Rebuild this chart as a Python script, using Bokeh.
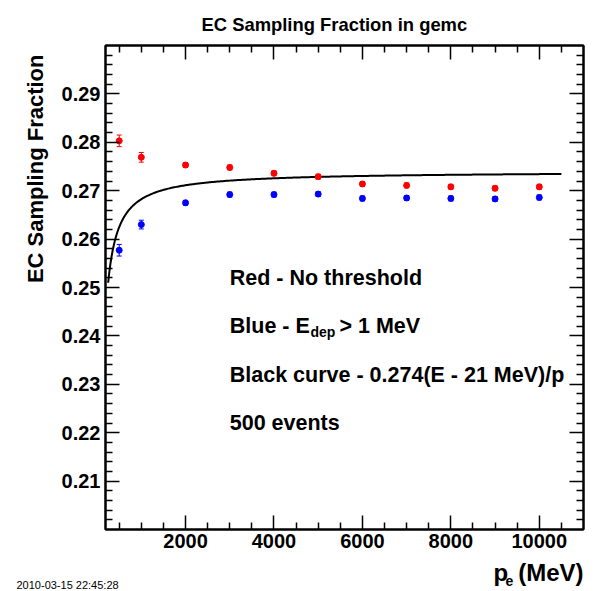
import numpy as np
from bokeh.plotting import figure
from bokeh.layouts import column
from bokeh.models import (ColumnDataSource, Whisker, TeeHead, Label, LinearAxis,
                          FixedTicker, CustomJSTickFormatter, Range1d, Title)
from bokeh.embed import file_html
from bokeh.resources import INLINE

# ---------------- data ----------------
momentum = [500, 1000, 2000, 3000, 4000, 5000, 6000, 7000, 8000, 9000, 10000]
red_frac = [0.2803, 0.2769, 0.2753, 0.2748, 0.2736, 0.2729, 0.2714, 0.2711, 0.2708, 0.2705, 0.2708]
red_err = [0.0012, 0.0010, 0.0005, 0.0005, 0.0005, 0.0005, 0.0005, 0.0005, 0.0005, 0.0005, 0.0005]
blue_frac = [0.2577, 0.2630, 0.2675, 0.2692, 0.2692, 0.2693, 0.2684, 0.2685, 0.2684, 0.2683, 0.2686]
blue_err = [0.0012, 0.0009, 0.0005, 0.0005, 0.0005, 0.0005, 0.0005, 0.0005, 0.0005, 0.0005, 0.0005]

# black curve: 0.274 (E - 21 MeV) / p  (E ~ p for electrons)
curve_coef = 0.274
curve_offset = 21.0
curve_p_min = 250
curve_p_max = 10500

x_ticks = [2000, 4000, 6000, 8000, 10000]
x_minor_ticks = [500, 1000, 1500, 2500, 3000, 3500, 4500, 5000, 5500, 6500, 7000, 7500,
                 8500, 9000, 9500, 10500]
y_ticks = [0.21, 0.22, 0.23, 0.24, 0.25, 0.26, 0.27, 0.28, 0.29]
y_minor_ticks = [round(0.200 + 0.002 * i, 3) for i in range(51) if i % 5 != 0]

title_text = "EC Sampling Fraction in gemc"
y_title = "EC Sampling Fraction"
notes = ["Red - No threshold", "Black curve - 0.274(E - 21 MeV)/p", "500 events"]
timestamp = "2010-03-15 22:45:28"

# ---------------- geometry ----------------
X0, X1 = 190, 11000
Y0, Y1 = 0.20, 0.30
W, H = 595, 591
FL, FR, FT, FB = 105, 583, 45, 529
MAIN_H = 558            # main figure height; a footer strip holds the x title
LIFT = 9                # text baseline correction, pixels

def sx(px):
    return X0 + (px - FL) / (FR - FL) * (X1 - X0)

def sy(py):
    return Y1 - (py - FT) / (FB - FT) * (Y1 - Y0)

FONT = "Liberation Sans"

p = figure(width=W, height=MAIN_H, output_backend="svg", toolbar_location=None,
           x_range=Range1d(X0, X1), y_range=Range1d(Y0, Y1),
           min_border_left=FL, min_border_right=W - FR,
           min_border_top=FT, min_border_bottom=MAIN_H - FB,
           x_axis_type=None, y_axis_type=None)
p.grid.visible = False
p.outline_line_color = "black"
p.outline_line_width = 2
p.background_fill_color = "white"
p.border_fill_color = "white"

p.title = Title(text=title_text, align="left", offset=96, standoff=21,
                text_font=FONT, text_font_style="bold", text_font_size="18.4px",
                text_color="black")

xt = FixedTicker(ticks=x_ticks, minor_ticks=x_minor_ticks)
yt = FixedTicker(ticks=y_ticks, minor_ticks=y_minor_ticks)
blank = CustomJSTickFormatter(code="return ''")

def style_axis(ax, labels=True, standoff=5):
    ax.axis_line_color = "black"
    ax.axis_line_width = 2
    ax.major_tick_in = 14
    ax.major_tick_out = 0
    ax.minor_tick_in = 7
    ax.minor_tick_out = 0
    ax.major_tick_line_width = 1.5
    ax.minor_tick_line_width = 1.5
    ax.major_tick_line_color = "black"
    ax.minor_tick_line_color = "black"
    ax.major_label_standoff = standoff
    ax.major_label_text_font = FONT
    ax.major_label_text_font_style = "bold"
    ax.major_label_text_font_size = "20px"
    ax.major_label_text_color = "black"
    if not labels:
        ax.formatter = blank
        ax.major_label_standoff = 0
        ax.major_label_text_font_size = "1px"

bottom = LinearAxis(ticker=xt)
style_axis(bottom, True, 4)
p.add_layout(bottom, "below")
top = LinearAxis(ticker=xt)
style_axis(top, False)
p.add_layout(top, "above")
left = LinearAxis(ticker=yt)
style_axis(left, True, 5)
p.add_layout(left, "left")
right = LinearAxis(ticker=yt)
style_axis(right, False)
p.add_layout(right, "right")

# y axis title as a side title
p.add_layout(Title(text=y_title, align="right", offset=9, standoff=22,
                   text_font=FONT, text_font_style="bold", text_font_size="22px",
                   text_color="black"), "left")

# error bars
for frac, err, col in [(red_frac, red_err, "#ff0000"), (blue_frac, blue_err, "#0000ff")]:
    src = ColumnDataSource(dict(x=momentum,
                                lo=[v - e for v, e in zip(frac, err)],
                                hi=[v + e for v, e in zip(frac, err)]))
    w = Whisker(base="x", lower="lo", upper="hi", source=src, dimension="height",
                line_color=col, line_width=1,
                lower_head=TeeHead(size=5, line_color=col, line_width=1),
                upper_head=TeeHead(size=5, line_color=col, line_width=1))
    p.add_layout(w)

# curve
pc = np.linspace(curve_p_min, curve_p_max, 400)
fc = curve_coef * (pc - curve_offset) / pc
p.line(pc, fc, line_color="black", line_width=2)

# points
p.scatter(momentum, red_frac, size=6, color="#ff0000")
p.scatter(momentum, blue_frac, size=6, color="#0000ff")

def lab(fig, x, y, text, size, align="left", baseline="alphabetic", style="bold"):
    fig.add_layout(Label(x=x, y=y, text=text, text_font=FONT, text_font_style=style,
                         text_font_size=size, text_align=align, text_baseline=baseline,
                         text_color="black"))

# notes inside the frame (baselines at 286, 334, 383, 431 px)
lab(p, 3000, sy(286 - LIFT), notes[0], "21.5px")
lab(p, 3000, sy(334 - LIFT), "Blue - E", "21.5px")
lab(p, sx(310), sy(340 - LIFT), "dep", "14px")
lab(p, sx(339), sy(334 - LIFT), "> 1 MeV", "21.5px")
lab(p, 3000, sy(383 - LIFT), notes[1], "21.5px")
lab(p, 3000, sy(431 - LIFT), notes[2], "21.5px")

# ---------------- footer strip: x-axis title and timestamp ----------------
FH = H - MAIN_H
f = figure(width=W, height=FH, output_backend="svg", toolbar_location=None,
           x_range=Range1d(0, W), y_range=Range1d(FH, 0),
           min_border_left=0, min_border_right=0, min_border_top=0, min_border_bottom=0,
           x_axis_type=None, y_axis_type=None)
f.title = None
f.grid.visible = False
f.outline_line_color = None
f.background_fill_color = "white"
f.border_fill_color = "white"
for fig in (p, f):
    if "frame_align" in fig.properties():
        fig.frame_align = False

lab(f, 493, 581 - LIFT - MAIN_H, "p", "24px")
lab(f, 505, 589 - LIFT - MAIN_H, "e", "14px")
lab(f, 583, 581 - LIFT - MAIN_H, "(MeV)", "24px", align="right")
lab(f, 16, 593 - LIFT - MAIN_H, timestamp, "11px", style="normal")

layout = column(p, f, spacing=0)
open("out.html", "w").write(file_html(layout, INLINE))
